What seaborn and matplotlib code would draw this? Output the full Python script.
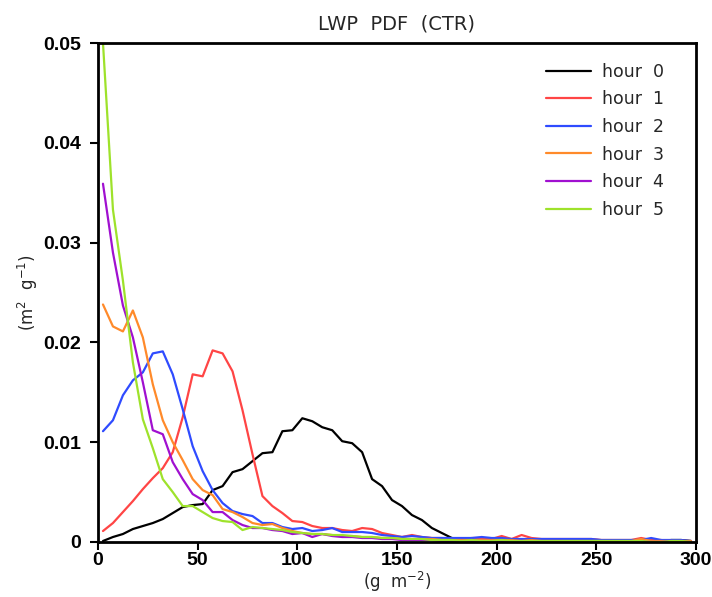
import numpy as np
import pandas as pd
import seaborn as sns
import matplotlib.pyplot as plt

# LWP bin centres (g m-2), 5 g m-2 bins
lwp_bins = np.arange(2.5, 300, 5)

hours = ["hour  0", "hour  1", "hour  2", "hour  3", "hour  4", "hour  5"]
colors = ["#000000", "#ff4545", "#2f4bff", "#ff8a2a", "#a010d0", "#9ee22b"]

hour0 = [0.0001, 0.0005, 0.0008, 0.0013, 0.0016, 0.0019, 0.0023, 0.0029, 0.0035, 0.0037,
         0.0038, 0.0052, 0.0056, 0.0070, 0.0073, 0.0081, 0.0089, 0.0090, 0.0111, 0.0112,
         0.0124, 0.0121, 0.0115, 0.0112, 0.0101, 0.0099, 0.0090, 0.0063, 0.0056, 0.0042,
         0.0036, 0.0027, 0.0022, 0.0014, 0.0009, 0.0004, 0.0003, 0.0002, 0.0002, 0.0001,
         0.0001, 0.0002, 0.0001, 0.0001, 0.0001, 0.0001, 0.0001, 0.0001, 0.0001, 0.0001,
         0.0001, 0.0001, 0.0001, 0.0001, 0.0001, 0.0001, 0.0000, 0.0002, 0.0002, 0.0001]
hour1 = [0.0011, 0.0019, 0.0030, 0.0041, 0.0053, 0.0064, 0.0074, 0.0090, 0.0125, 0.0168,
         0.0166, 0.0192, 0.0189, 0.0171, 0.0132, 0.0088, 0.0046, 0.0036, 0.0029, 0.0021,
         0.0020, 0.0016, 0.0014, 0.0014, 0.0012, 0.0011, 0.0014, 0.0013, 0.0009, 0.0007,
         0.0005, 0.0007, 0.0005, 0.0004, 0.0004, 0.0003, 0.0003, 0.0004, 0.0004, 0.0003,
         0.0006, 0.0003, 0.0007, 0.0004, 0.0003, 0.0003, 0.0003, 0.0003, 0.0003, 0.0003,
         0.0002, 0.0002, 0.0002, 0.0002, 0.0004, 0.0002, 0.0002, 0.0001, 0.0001, 0.0001]
hour2 = [0.0111, 0.0122, 0.0147, 0.0162, 0.0170, 0.0189, 0.0191, 0.0168, 0.0133, 0.0096,
         0.0071, 0.0052, 0.0039, 0.0031, 0.0028, 0.0026, 0.0019, 0.0019, 0.0015, 0.0013,
         0.0014, 0.0011, 0.0012, 0.0014, 0.0010, 0.0010, 0.0010, 0.0009, 0.0007, 0.0006,
         0.0005, 0.0006, 0.0005, 0.0004, 0.0004, 0.0004, 0.0004, 0.0004, 0.0005, 0.0004,
         0.0004, 0.0003, 0.0003, 0.0003, 0.0003, 0.0003, 0.0003, 0.0003, 0.0003, 0.0003,
         0.0002, 0.0002, 0.0002, 0.0002, 0.0002, 0.0004, 0.0002, 0.0002, 0.0002, 0.0001]
hour3 = [0.0238, 0.0216, 0.0211, 0.0232, 0.0205, 0.0158, 0.0122, 0.0100, 0.0082, 0.0063,
         0.0052, 0.0047, 0.0033, 0.0030, 0.0025, 0.0019, 0.0017, 0.0018, 0.0014, 0.0011,
         0.0009, 0.0008, 0.0008, 0.0007, 0.0006, 0.0006, 0.0005, 0.0005, 0.0004, 0.0004,
         0.0003, 0.0003, 0.0003, 0.0003, 0.0002, 0.0002, 0.0002, 0.0002, 0.0002, 0.0002,
         0.0002, 0.0002, 0.0001, 0.0002, 0.0001, 0.0001, 0.0001, 0.0001, 0.0001, 0.0001,
         0.0001, 0.0001, 0.0001, 0.0001, 0.0003, 0.0001, 0.0001, 0.0001, 0.0001, 0.0001]
hour4 = [0.0359, 0.0290, 0.0237, 0.0205, 0.0160, 0.0112, 0.0108, 0.0080, 0.0063, 0.0048,
         0.0042, 0.0030, 0.0030, 0.0022, 0.0017, 0.0014, 0.0014, 0.0012, 0.0011, 0.0008,
         0.0009, 0.0005, 0.0008, 0.0006, 0.0005, 0.0005, 0.0004, 0.0004, 0.0003, 0.0003,
         0.0002, 0.0002, 0.0002, 0.0002, 0.0001, 0.0001, 0.0001, 0.0001, 0.0001, 0.0001,
         0.0001, 0.0001, 0.0001, 0.0001, 0.0001, 0.0001, 0.0001, 0.0000, 0.0001, 0.0000,
         0.0000, 0.0001, 0.0000, 0.0000, 0.0000, 0.0000, 0.0000, 0.0001, 0.0000, 0.0000]
hour5 = [0.0500, 0.0333, 0.0262, 0.0180, 0.0123, 0.0094, 0.0063, 0.0050, 0.0036, 0.0036,
         0.0030, 0.0024, 0.0021, 0.0020, 0.0012, 0.0015, 0.0014, 0.0013, 0.0012, 0.0010,
         0.0009, 0.0008, 0.0008, 0.0007, 0.0007, 0.0006, 0.0005, 0.0005, 0.0004, 0.0004,
         0.0003, 0.0003, 0.0003, 0.0002, 0.0002, 0.0002, 0.0001, 0.0002, 0.0001, 0.0001,
         0.0002, 0.0001, 0.0001, 0.0001, 0.0001, 0.0001, 0.0001, 0.0001, 0.0001, 0.0001,
         0.0001, 0.0001, 0.0001, 0.0001, 0.0001, 0.0000, 0.0000, 0.0001, 0.0001, 0.0000]

# long format for seaborn
series = [hour0, hour1, hour2, hour3, hour4, hour5]
df = pd.concat(
    [pd.DataFrame({"lwp": lwp_bins, "pdf": vals, "hour": h}) for h, vals in zip(hours, series)],
    ignore_index=True)

sns.set_style("ticks")
plt.rcParams["font.family"] = ["Liberation Sans", "DejaVu Sans"]

fig = plt.figure(figsize=(7.12, 5.97), dpi=100)
ax = fig.add_axes([98 / 712, 1 - 542 / 597, 598 / 712, 499 / 597])

sns.lineplot(data=df, x="lwp", y="pdf", hue="hour", hue_order=hours,
             palette=colors, linewidth=1.6, ax=ax)

ax.set_xlim(0, 300)
ax.set_ylim(0, 0.05)
ax.set_xticks([0, 50, 100, 150, 200, 250, 300])
ax.set_yticks([0, 0.01, 0.02, 0.03, 0.04, 0.05])
ax.set_yticklabels(["0", "0.01", "0.02", "0.03", "0.04", "0.05"])
ax.tick_params(axis="both", direction="out", length=6, width=1.5,
               labelsize=14, colors="black")
ax.tick_params(axis="x", pad=1)
ax.tick_params(axis="y", pad=6)
for lab in ax.get_xticklabels() + ax.get_yticklabels():
    lab.set_fontweight("bold")
for sp in ax.spines.values():
    sp.set_visible(True)
    sp.set_linewidth(2)
    sp.set_color("black")

ax.set_title("LWP  PDF  (CTR)", fontsize=14, pad=10, family="DejaVu Sans")
ax.set_xlabel("(g  m$^{-2}$)", fontsize=12, family="DejaVu Sans", va="center")
ax.set_ylabel("(m$^{2}$  g$^{-1}$)", fontsize=12, family="DejaVu Sans", va="center")
ax.xaxis.set_label_coords(0.5, -0.080)
ax.yaxis.set_label_coords(-0.117, 0.5)

leg = ax.legend(loc="upper right", frameon=False, fontsize=12.5,
                handlelength=2.6, handletextpad=0.6, labelspacing=0.55,
                borderaxespad=0.6, bbox_to_anchor=(0.975, 0.995))
for line in leg.get_lines():
    line.set_linewidth(1.6)
for t in leg.get_texts():
    t.set_family("DejaVu Sans")

fig.savefig("out.png", dpi=100)
